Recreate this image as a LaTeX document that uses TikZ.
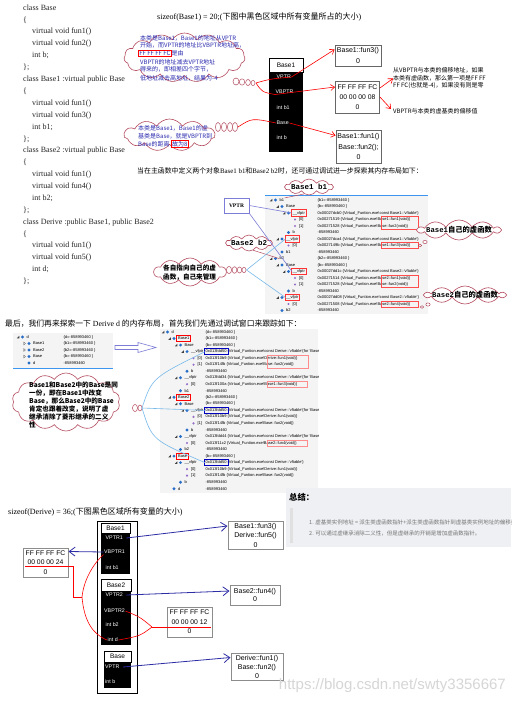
\documentclass[tikz,border=0pt]{standalone}
\usepackage{fontspec}
\setmainfont{Liberation Serif}
\setsansfont{Liberation Sans}
\setmonofont{Liberation Mono}
\newfontfamily\cjk{Noto Sans CJK SC}
\usetikzlibrary{shapes.symbols,arrows.meta}
\definecolor{cloudred}{RGB}{180,75,95}
\definecolor{ctext}{RGB}{40,40,175}
\definecolor{darrow}{RGB}{45,45,165}
\definecolor{lblue}{RGB}{120,185,235}
\definecolor{pblue}{RGB}{125,125,215}
\definecolor{dbg}{RGB}{244,244,244}
\definecolor{dbgline}{RGB}{60,150,240}
\definecolor{panel}{RGB}{238,240,243}
\definecolor{icb}{RGB}{40,110,200}
\definecolor{icp}{RGB}{150,110,200}
\newcommand\fs[1]{\fontsize{#1}{#1}\selectfont}
\newcommand\vf{\{Virtual\_Funtion.exe!}
\newcommand\rb[1]{{\setlength\fboxsep{0.6pt}\setlength\fboxrule{0.6pt}\fcolorbox{red}{white}{#1}}}
\newcommand\drow[7]{%
  \pgfmathsetmacro\dax{\dwx+6.5*#3}%
  \if a#4\fill[black!75] ({\dax-1.2},{#2+1.3}) -- ({\dax+1.3},{#2+1.3}) -- ({\dax+1.3},{#2-1.2}) -- cycle;\fi
  \if r#4\draw[black!70,line width=0.3] ({\dax-0.8},{#2-1.5}) -- ({\dax+1},{#2}) -- ({\dax-0.8},{#2+1.5}) -- cycle;\fi
  \if p#5\fill[icp] ({\dax+4.5},{#2}) circle (1.2);\else
    \fill[icb] ({\dax+4.5},{#2-1.6}) -- ({\dax+6.1},{#2}) -- ({\dax+4.5},{#2+1.6}) -- ({\dax+2.9},{#2}) -- cycle;\fi
  \node[dtxt] (#1) at ({\dax+8},{#2}) {#6};
  \node[dtxt] (#1v) at (\dwv,{#2}) {#7};
}
\begin{document}
\begin{tikzpicture}[x=1pt,y=-1pt,
  code/.style={anchor=west,inner sep=0,text=black!85,font=\fs{8}},
  cld/.style={cloud,draw=cloudred,line width=0.6,cloud ignores aspect,inner sep=0,fill=white,cloud puff arc=115},
  ctxt/.style={anchor=west,inner sep=0,text=ctext,font=\cjk\fs{6}},
  btxt/.style={anchor=west,inner sep=0,font=\cjk\bfseries\fs{6.6}},
  blk/.style={anchor=west,inner sep=0.5,text=white,font=\sffamily\fs{5.3}},
  hdr/.style={draw=black,fill=white,line width=0.5,inner sep=0,font=\sffamily\fs{6.5}},
  rbox/.style={draw=black!60,line width=0.9,align=center,inner sep=1,font=\sffamily\fontsize{7}{10.5}\selectfont},
  rbox2/.style={draw=black!45,line width=1,align=center,inner sep=1,font=\sffamily\fontsize{7}{9.5}\selectfont},
  redarr/.style={red,line width=0.6,-{Straight Barb[length=4pt,width=6pt]}},
  bluearr/.style={darrow,line width=0.8,-{Straight Barb[length=6pt,width=9pt]}},
  dtxt/.style={anchor=west,inner sep=0.4,font=\sffamily\fs{4}},
  tail/.style={draw=cloudred,line width=0.5,fill=white},
  ann/.style={anchor=west,inner sep=0,align=left,font=\cjk\fontsize{6}{7.5}\selectfont},
]
\useasboundingbox (0,0) rectangle (511,703);
\fill[white] (0,0) rectangle (511,703);

% ---------- code ----------
\foreach \x/\t [count=\i] in {23/{class Base},23/{\{},32/{virtual void fun1()},32/{virtual void fun2()},32/{int b;},23/{\};},
 23/{class Base1 :virtual public Base},23/{\{},32/{virtual void fun1()},32/{virtual void fun3()},32/{int b1;},23/{\};},
 23/{class Base2 :virtual public Base},23/{\{},32/{virtual void fun1()},32/{virtual void fun4()},32/{int b2;},23/{\};},
 23/{class Derive :public Base1, public Base2},23/{\{},32/{virtual void fun1()},32/{virtual void fun5()},32/{int d;},23/{\};}}
 {\node[code] (c\i) at (\x,{8+11.9*(\i-1)}) {\t};}

% ---------- top: Base1 ----------
\node[anchor=west,inner sep=0,font=\fs{8}] (sz1) at (157,17) {sizeof(Base1) = 20;({\cjk 下图中黑色区域中所有变量所占的大小})};

\node[cld,cloud puffs=15,minimum width=121,minimum height=49] (cl1) at (184.5,57.5) {};
\node[ctxt] (t11) at (140,38) {本类是Base1，Base1的地址从VPTR};
\node[ctxt] (t12) at (140,45.5) {开始，而VPTR的地址比VBPTR地址高，};
\node[ctxt] (t13) at (138,53.5) {\rb{FF FF FF FC}是由};
\node[ctxt] (t14) at (140,62) {VBPTR的地址减去VPTR地址};
\node[ctxt] (t15) at (140,69.5) {得来的，即相差四个字节，};
\node[ctxt] (t16) at (140,78) {低地址减去高地址，结果为-4};
\foreach \x/\yy/\rx/\ry in {236/81.5/3/3.5,242/82/2.7/3.2,248/82.5/2.4/3,253/83/2/2.6}
  \draw[tail] (\x,\yy) ellipse ({\rx} and {\ry});
\coordinate (T1) at (256,83);

\node[cld,cloud puffs=11,minimum width=91,minimum height=32] (cl2) at (169.5,135) {};
\node[ctxt] (t21) at (138,128) {本类是Base1，Base1的虚};
\node[ctxt] (t22) at (138,136) {基类是Base，就是VBPTR到};
\node[ctxt] (t23) at (138,144) {Base的距离 \rb{故为8}};
\foreach \x/\yy in {218/127,224/127,230/127,235/127}
  \draw[tail] (\x,\yy) ellipse (2.6 and 4.5);
\coordinate (T2) at (238,127);

\fill[black] (269,72) rectangle (303,152);
\node[hdr,minimum width=34,minimum height=14] (s1h) at (286,65) {Base1};
\node[blk] (s1vptr) at (276,77) {VPTR};
\node[blk] (s1vbptr) at (275,92) {VBPTR};
\node[blk] (s1b1) at (276,108) {int b1};
\node[blk] (s1base) at (276,123) {Base};
\node[blk] (s1b) at (276,138) {int b};

\node[rbox,minimum width=46,minimum height=21] (r1) at (358,55.5) {Base1::fun3()\\0};
\node[rbox,minimum width=44,minimum height=32,font=\sffamily\fontsize{6.8}{10}\selectfont] (r2) at (357.5,97) {FF FF FF FC\\00 00 00 08\\0};
\node[rbox,minimum width=45,minimum height=33,font=\sffamily\fontsize{7}{10.5}\selectfont] (r3) at (358.5,146.5) {Base1::fun1()\\Base::fun2();\\0};

\draw[red,line width=0.6] (T1) .. controls (270,79) .. (s1vptr.east);
\draw[redarr] (s1vptr.east) -- ([yshift=6pt]r1.west);
\draw[red,line width=0.6] (T1) .. controls (262,92) .. (s1vbptr.south west);
\draw[redarr] (s1vbptr.south west) -- ([yshift=10pt]r2.west);
\draw[red,line width=0.6] (T2) .. controls (252,118) .. (s1base.west);
\draw[redarr] (s1base.east) -- ([yshift=11pt]r3.west);

\node[ann] (a1) at (393,78.5) {从VBPTR与本类的偏移地址，如果\\本类有虚函数，那么第一项是FF FF\\FF FC(也就是-4)，如果没有则是零};
\node[ann] (a2) at (393,111) {VBPTR与本类的虚基类的偏移值};
\draw[redarr] ([yshift=9pt]r2.east) -- (a1.west);
\draw[redarr] (r2.east) -- ([xshift=-2pt,yshift=2pt]a2.west);

% ---------- middle: b1 / b2 ----------
\node[anchor=west,inner sep=0,font=\fs{6.9}] (mt) at (137,171) {{\cjk 当在主函数中定义两个对象}Base1 b1{\cjk 和}Base2 b2{\cjk 时，还可通过调试进一步探索其内存布局如下：}};

\begin{scope}
\clip (265,195) rectangle (428,314);
\fill[dbg] (265,195) rectangle (428,314);
\draw[dbgline,line width=0.8] (265,195.5) -- (428,195.5);
\def\dwx{271}\def\dwv{317}
\drow{w1n1}{200}{0}{a}{c}{b1}{\{b1=-858993460 \}}
\drow{w1n2}{206.5}{1}{a}{c}{Base}{\{b=-858993460 \}}
\drow{w1n3}{213}{2}{a}{c}{\_\_vfptr}{0x00027dcb0 \vf const Base1::`vftable'\}}
\drow{w1n4}{219.5}{3}{n}{p}{[0]}{0x00271519 \vf Base1::fun1(void)\}}
\drow{w1n5}{226}{3}{n}{p}{[1]}{0x00271528 \vf Base::fun2(void)\}}
\drow{w1n6}{232.5}{2}{n}{c}{b}{-858993460}
\drow{w1n7}{239}{1}{a}{c}{\_\_vfptr}{0x00027dca4 \vf const Base1::`vftable'\}}
\drow{w1n8}{245.5}{2}{n}{p}{[0]}{0x0027149b \vf Base1::fun3(void)\}}
\drow{w1n9}{252}{1}{n}{c}{b1}{-858993460}
\drow{w1n10}{258.5}{0}{a}{c}{b2}{\{b2=-858993460 \}}
\drow{w1n11}{265}{1}{a}{c}{Base}{\{b=-858993460 \}}
\drow{w1n12}{271.5}{2}{a}{c}{\_\_vfptr}{0x00027dd1c \vf const Base2::`vftable'\}}
\drow{w1n13}{278}{3}{n}{p}{[0]}{0x00271514 \vf Base2::fun1(void)\}}
\drow{w1n14}{284.5}{3}{n}{p}{[1]}{0x00271528 \vf Base::fun2(void)\}}
\drow{w1n15}{291}{2}{n}{c}{b}{-858993460}
\drow{w1n16}{297.5}{1}{a}{c}{\_\_vfptr}{0x00027dd08 \vf const Base2::`vftable'\}}
\drow{w1n17}{304}{2}{n}{p}{[0]}{0x00271508 \vf Base2::fun4(void)\}}
\drow{w1n18}{310.5}{1}{n}{c}{b2}{-858993460}
\foreach \n in {w1n3,w1n7,w1n12,w1n16}
  \draw[red!80,line width=0.6] ([xshift=-0.5pt,yshift=-0.8pt]\n.south west) rectangle ([xshift=0.5pt,yshift=0.8pt]\n.north east);
\draw[red!70,line width=0.6] (381,216.5) rectangle (418,229);
\draw[red!70,line width=0.6] (381,242.5) rectangle (418,248.5);
\draw[red!70,line width=0.6] (381,275) rectangle (418,287.5);
\draw[red!70,line width=0.6] (381,301) rectangle (418,307);
\end{scope}

\node[cld,cloud puffs=10,minimum width=48,minimum height=16] (cl5) at (309,187) {};
\node[inner sep=0,font=\ttfamily\bfseries\fs{7.5}] (bb1) at (309,187) {Base1 b1};
\draw[cloudred,line width=0.5] (cl5.235) -- (w1n1.north east);

\node[cld,cloud puffs=10,minimum width=82,minimum height=20] (cl7) at (459,230) {};
\node[inner sep=0,font=\fs{7.3}] (fb1) at (459,230) {{\ttfamily\bfseries Base1}{\cjk\bfseries 自己的虚函数}};
\foreach \x/\yy/\rx/\ry in {425/242/2.2/1.6,420/245.5/1.8/1.3}
  \draw[tail] (\x,\yy) ellipse ({\rx} and {\ry});

\node[cld,cloud puffs=10,minimum width=80,minimum height=18] (cl8) at (465,295) {};
\node[inner sep=0,font=\fs{7.3}] (fb2) at (465,295) {{\ttfamily\bfseries Base2}{\cjk\bfseries 自己的虚函数}};
\foreach \x/\yy/\rx/\ry in {428/304.5/2.2/1.6,422/307/1.8/1.3}
  \draw[tail] (\x,\yy) ellipse ({\rx} and {\ry});

\node[draw=pblue,line width=0.6,minimum width=25,minimum height=15,inner sep=0,font=\bfseries\fs{5.5}] (vptrbox) at (236.5,205.5) {VPTR};

\node[cld,cloud puffs=10,minimum width=46,minimum height=16] (cl6) at (249,243) {};
\node[inner sep=0,font=\ttfamily\bfseries\fs{7.5}] (bb2) at (249,243) {Base2 b2};
\draw[cloudred,line width=0.5] (cl6.300) -- (w1n10.west);

\node[cld,cloud puffs=10,minimum width=72,minimum height=28] (cl4) at (190,272) {};
\node[btxt] (t41) at (163,268) {各自指向自己的虚};
\node[btxt] (t42) at (163,277) {函数，自己来管理};
\foreach \x/\yy/\rx/\ry in {229/270/2.6/3.6,234.5/270/2.4/3.3,239.5/270/2.2/3,244/270/2/2.7}
  \draw[tail] (\x,\yy) ellipse ({\rx} and {\ry});
\coordinate (T3) at (246.5,270);

\draw[pblue,line width=0.6] (vptrbox.east) -- (w1n3.west);
\draw[pblue,line width=0.6] (vptrbox.south east) -- (w1n12.west);
\draw[lblue,line width=0.6] (T3) -- (w1n7.west);
\draw[lblue,line width=0.6] (T3) -- (w1n16.west);

% ---------- Derive d ----------
\node[anchor=west,inner sep=0,font=\fs{7.8}] (lt) at (5,324) {{\cjk 最后，我们再来探索一下} Derive d {\cjk 的内存布局，首先我们先通过调试窗口来跟踪如下：}};

\begin{scope}
\clip (13,333) rectangle (113,369);
\fill[dbg] (13,333) rectangle (113,369);
\draw[dbgline,line width=0.8] (13,368.3) -- (113,368.3);
\def\dwx{18}\def\dwv{63}
\drow{w0n1}{337}{0}{a}{c}{d}{\{d=-858993460 \}}
\drow{w0n2}{343.5}{1}{r}{c}{Base1}{\{b1=-858993460 \}}
\drow{w0n3}{350}{1}{r}{c}{Base2}{\{b2=-858993460 \}}
\drow{w0n4}{356.5}{1}{r}{c}{Base}{\{b=-858993460 \}}
\drow{w0n5}{363}{1}{n}{c}{d}{-858993460}
\end{scope}

\draw[pblue,line width=0.6,fill=white] (115,345.5) -- (138,345.5) -- (138,342.5) -- (156,347.5) -- (138,352.5) -- (138,349.5) -- (115,349.5) -- cycle;

\begin{scope}
\clip (160,329) rectangle (318,493);
\fill[dbg] (160,329) rectangle (318,493);
\def\dwx{163}\def\dwv{205}
\drow{w2n1}{332}{0}{a}{c}{d}{\{d=-858993460 \}}
\drow{w2n2}{338.5}{1}{a}{c}{Base1}{\{b1=-858993460 \}}
\drow{w2n3}{345.1}{2}{a}{c}{Base}{\{b=-858993460 \}}
\drow{w2n4}{351.6}{3}{a}{c}{\_\_vfptr}{0x013fdd50 \vf const Derive::`vftable'\{for `Base1'\}\}}
\drow{w2n5}{358.1}{4}{n}{p}{[0]}{0x013f10b9 \vf Derive::fun1(void)\}}
\drow{w2n6}{364.7}{4}{n}{p}{[1]}{0x013f14fb \vf Base::fun2(void)\}}
\drow{w2n7}{371.2}{3}{n}{c}{b}{-858993460}
\drow{w2n8}{377.7}{2}{a}{c}{\_\_vfptr}{0x013fdd34 \vf const Derive::`vftable'\{for `Base1'\}\}}
\drow{w2n9}{384.2}{3}{n}{p}{[0]}{0x013f100a \vf Base1::fun3(void)\}}
\drow{w2n10}{390.8}{2}{n}{c}{b1}{-858993460}
\drow{w2n11}{397.3}{1}{a}{c}{Base2}{\{b2=-858993460 \}}
\drow{w2n12}{403.8}{2}{a}{c}{Base}{\{b=-858993460 \}}
\drow{w2n13}{410.4}{3}{a}{c}{\_\_vfptr}{0x013fdd50 \vf const Derive::`vftable'\{for `Base2'\}\}}
\drow{w2n14}{416.9}{4}{n}{p}{[0]}{0x013f10b9 \vf Derive::fun1(void)\}}
\drow{w2n15}{423.4}{4}{n}{p}{[1]}{0x013f14fb \vf Base::fun2(void)\}}
\drow{w2n16}{429.9}{3}{n}{c}{b}{-858993460}
\drow{w2n17}{436.5}{2}{a}{c}{\_\_vfptr}{0x013fdd44 \vf const Derive::`vftable'\{for `Base2'\}\}}
\drow{w2n18}{443}{3}{n}{p}{[0]}{0x013f11c2 \vf Base2::fun4(void)\}}
\drow{w2n19}{449.5}{2}{n}{c}{b2}{-858993460}
\drow{w2n20}{456.1}{1}{a}{c}{Base}{\{b=-858993460 \}}
\drow{w2n21}{462.6}{2}{a}{c}{\_\_vfptr}{0x013fdd50 \vf const Derive::`vftable'\}}
\drow{w2n22}{469.1}{3}{n}{p}{[0]}{0x013f10b9 \vf Derive::fun1(void)\}}
\drow{w2n23}{475.6}{3}{n}{p}{[1]}{0x013f14fb \vf Base::fun2(void)\}}
\drow{w2n24}{482.2}{2}{n}{c}{b}{-858993460}
\drow{w2n25}{488.7}{1}{n}{c}{d}{-858993460}
\foreach \n in {w2n2,w2n11,w2n20}
  \draw[red,line width=0.8] ([xshift=-0.8pt,yshift=-1pt]\n.south west) rectangle ([xshift=0.8pt,yshift=1pt]\n.north east);
\foreach \n in {w2n4v,w2n13v,w2n21v}
  \draw[blue!75!black,line width=0.7] ([xshift=-1pt,yshift=3.2pt]\n.west) rectangle ++(24,6.4);
\draw[red!45,line width=0.6] (267,355) rectangle (308,368);
\draw[red!45,line width=0.6] (267,381) rectangle (307,387.5);
\draw[red!45,line width=0.6] (267,440) rectangle (307,446.5);
\end{scope}

\node[cld,cloud puffs=14,minimum width=108,minimum height=58] (cl3) at (66,402) {};
\node[btxt] (t31) at (29,385) {Base1和Base2中的Base是同};
\node[btxt] (t32) at (29,393) {一份，即在Base1中改变};
\node[btxt] (t33) at (29,401) {Base，那么Base2中的Base};
\node[btxt] (t34) at (29,409) {肯定也跟着改变，说明了虚};
\node[btxt] (t35) at (29,417) {继承消除了菱形继承的二义};
\node[btxt] (t36) at (29,425) {性};
\foreach \x/\yy/\rx/\ry in {135/408/2.5/3.6,140/408/2/3}
  \draw[tail] (\x,\yy) ellipse ({\rx} and {\ry});
\coordinate (T4) at (142,408);
\draw[lblue,line width=0.6] (T4) .. controls (152,378) .. (w2n4v.west);
\draw[lblue,line width=0.6] (T4) -- (w2n13v.west);
\draw[lblue,line width=0.6] (T4) .. controls (152,440) .. (w2n21v.west);

% ---------- summary ----------
\fill[panel] (286,488) rectangle (511,547);
\fill[black!12] (290,508) rectangle (292.5,543);
\node[anchor=west,inner sep=0,font=\cjk\bfseries\fs{8.3}] (zj) at (289,497) {总结：};
\begin{scope}
\clip (286,488) rectangle (511,547);
\node[anchor=west,inner sep=0,text=black!55,font=\cjk\fs{5.5}] (sm1) at (309,522) {1. 虚基类实例地址 = 派生类虚函数指针+派生类虚函数指针到虚基类实例地址的偏移量};
\node[anchor=west,inner sep=0,text=black!55,font=\cjk\fs{5.5}] (sm2) at (309,533) {2. 可以通过虚继承消除二义性，但是虚继承的开销是增加虚函数指针。};
\end{scope}

% ---------- Derive layout ----------
\node[anchor=west,inner sep=0,font=\fs{8}] (sz2) at (8,512) {sizeof(Derive) = 36;({\cjk 下图黑色区域所有变量的大小})};

\draw[black,line width=0.9,fill=white] (97,521) rectangle (137,693);
\fill[black] (101,533) rectangle (130,574);
\node[hdr,minimum width=29,minimum height=10] (d1h) at (115.5,528) {Base1};
\node[blk] (dv1) at (105,538) {VPTR1};
\node[blk] (dvb1) at (103.5,552) {VBPTR1};
\node[blk] (db1) at (105,568) {int b1};

\fill[black] (101,591) rectangle (131,645);
\node[hdr,minimum width=30,minimum height=12] (d2h) at (116,585) {Base2};
\node[blk] (dv2) at (105,595) {VPTR2};
\node[blk] (dvb2) at (103.5,611) {VBPTR2};
\node[blk] (db2) at (105,625) {int b2};
\node[blk] (dd) at (107,640) {int d};

\fill[black] (104,662) rectangle (131,688);
\node[hdr,minimum width=27,minimum height=11] (d3h) at (117.5,656.5) {Base};
\node[blk] (dv3) at (104.5,667) {VPTR};
\node[blk] (db3) at (104.5,682) {int b};

\node[rbox2,minimum width=55,minimum height=28] (bx1) at (255.5,535) {Base1::fun3()\\Derive::fun5()\\0};
\node[rbox2,minimum width=45,minimum height=29,font=\sffamily\fontsize{6.8}{9.8}\selectfont] (ff1) at (45.5,562.5) {FF FF FF FC\\00 00 00 24\\0};
\node[rbox2,minimum width=50,minimum height=20,font=\sffamily\fontsize{7}{8.5}\selectfont] (bx2) at (255,595) {Base2::fun4()\\0};
\node[rbox2,minimum width=45,minimum height=30,font=\sffamily\fontsize{6.8}{9.5}\selectfont] (ff2) at (189.5,622) {FF FF FF FC\\00 00 00 12\\0};
\node[rbox2,minimum width=52,minimum height=27,font=\sffamily\fontsize{7}{9}\selectfont] (bx3) at (257,666.5) {Derive::fun1()\\Base::fun2()\\0};

\draw[bluearr] ([xshift=3pt]dv1.east) -- ([yshift=9pt]bx1.west);
\draw[bluearr] (dvb1.west) -- ([yshift=11pt]ff1.east);
\draw[bluearr] ([xshift=3pt]dv2.east) -- ([yshift=4pt]bx2.west);
\draw[bluearr] ([xshift=3pt]dv3.east) -- ([yshift=9pt]bx3.west);

\coordinate (u1a) at (25,566);
\coordinate (u1b) at (73,566);
\coordinate (u1c) at (73,597);
\coordinate (rj1) at (82,597);
\draw[red,line width=0.6] (u1a) -- (u1b) -- (u1c) -- (rj1);
\draw[red,line width=0.6] (rj1) .. controls (84,578) and (95,562) .. (dvb1.south west);
\draw[red,line width=0.6] (rj1) .. controls (84,620) and (92,634) .. (dd.west);
\coordinate (u2b) at (211,627);
\coordinate (rj2) at (152,627);
\draw[red,line width=0.6] (u2b) -- (rj2);
\draw[red,line width=0.6] (rj2) .. controls (140,617) .. (dvb2.east);
\draw[red,line width=0.6] (rj2) .. controls (140,636) .. (dd.east);

\node[anchor=east,inner sep=0,text=black!16,font=\sffamily\fs{15}] (wm) at (506,686) {https://blog.csdn.net/swty3356667};
\end{tikzpicture}
\end{document}
